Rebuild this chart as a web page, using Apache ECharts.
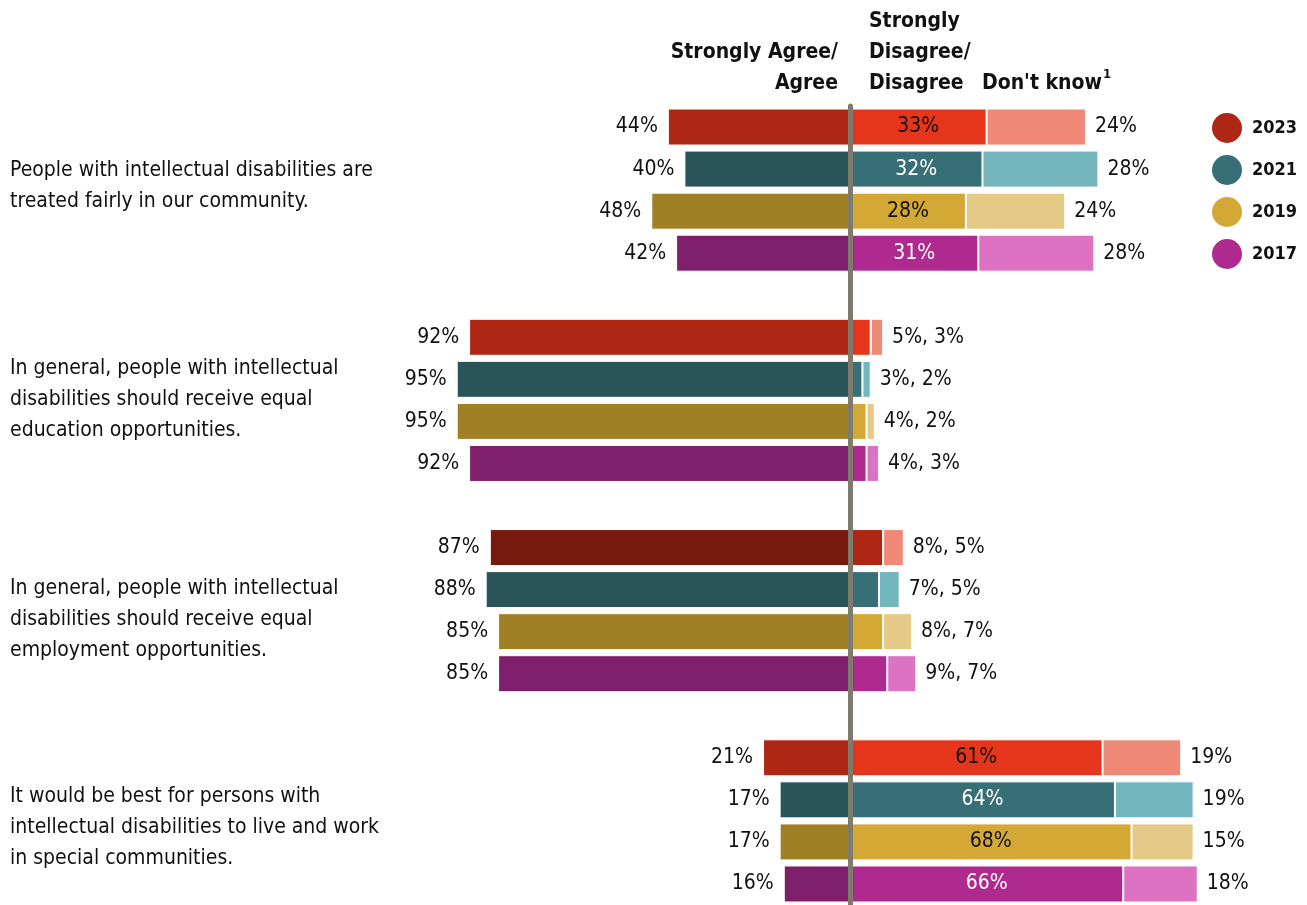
<!DOCTYPE html>
<html>
<head>
<meta charset="utf-8">
<style>
  html, body { margin: 0; padding: 0; background: #fff; }
  #chart { width: 1307px; height: 905px; }
</style>
<script src="https://cdn.jsdelivr.net/npm/echarts@6/dist/echarts.min.js"></script>
</head>
<body>
<div id="chart"></div>
<script>
// Survey statements, shown top to bottom
const questions = [
  'People with intellectual disabilities are\ntreated fairly in our community.',
  'In general, people with intellectual\ndisabilities should receive equal\neducation opportunities.',
  'In general, people with intellectual\ndisabilities should receive equal\nemployment opportunities.',
  'It would be best for persons with\nintellectual disabilities to live and work\nin special communities.'
];

// Survey waves, one bar per wave inside each statement
const years = ['2023', '2021', '2019', '2017'];

// Percentages per wave, one value per statement (same order as questions)
const agree2023 = [44, 92, 87, 21];
const agree2021 = [40, 95, 88, 17];
const agree2019 = [48, 95, 85, 17];
const agree2017 = [42, 92, 85, 16];

const disagree2023 = [33, 5, 8, 61];
const disagree2021 = [32, 3, 7, 64];
const disagree2019 = [28, 4, 8, 68];
const disagree2017 = [31, 4, 9, 66];

const dontKnow2023 = [24, 3, 5, 19];
const dontKnow2021 = [28, 2, 5, 19];
const dontKnow2019 = [24, 2, 7, 15];
const dontKnow2017 = [28, 3, 7, 18];

const agree = [agree2023, agree2021, agree2019, agree2017];
const disagree = [disagree2023, disagree2021, disagree2019, disagree2017];
const dontKnow = [dontKnow2023, dontKnow2021, dontKnow2019, dontKnow2017];

// ---- styling ----
const FONT = "'Liberation Sans Narrow', 'Arial Narrow', 'DejaVu Sans Condensed', sans-serif";
const palette = {
  agree:    ['#AE2614', '#28545A', '#A08024', '#7F1E6A'],
  disagree: ['#E5361B', '#376F77', '#D3A835', '#AE2A8F'],
  dontKnow: ['#F08877', '#74B6BE', '#E4CA86', '#DD72C3'],
  legend:   ['#AE2614', '#376F77', '#D3A835', '#AE2A8F'],
  inside:   ['#111111', '#ffffff', '#111111', '#ffffff']
};
// the 2023 employment bar is drawn in a deeper shade
const shadeOverride = { '2-0': { agree: '#751A0D', disagree: '#AE2614' } };
// vertical nudge (px) of each statement's text block
const questionNudge = [-4, -1, 9, 7];

// one category slot per bar, with a blank slot between statements
const slots = [];
questions.forEach((q, qi) => {
  years.forEach((y, yi) => slots.push({ qi, yi }));
  if (qi < questions.length - 1) slots.push(null);
});
const categories = slots.map((s, i) => s ? `${s.qi}-${years[s.yi]}` : `gap-${i}`);

function colorOf(kind, s) {
  const o = shadeOverride[`${s.qi}-${s.yi}`];
  return (o && o[kind]) || palette[kind][s.yi];
}

const labelFont = { fontFamily: FONT, fontSize: 21, color: '#111' };

const agreeData = slots.map(s => s ? {
  value: -agree[s.yi][s.qi],
  itemStyle: { color: colorOf('agree', s) }
} : '-');

const disagreeData = slots.map(s => {
  if (!s) return '-';
  const v = disagree[s.yi][s.qi];
  const inside = v >= 20;
  return {
    value: v,
    itemStyle: { color: colorOf('disagree', s) },
    label: inside
      ? { show: true, position: 'inside', color: palette.inside[s.yi], formatter: v + '%' }
      : { show: false }
  };
});

const dontKnowData = slots.map(s => {
  if (!s) return '-';
  const v = dontKnow[s.yi][s.qi];
  const d = disagree[s.yi][s.qi];
  return {
    value: v,
    itemStyle: { color: colorOf('dontKnow', s) },
    label: { show: true, formatter: d >= 20 ? v + '%' : `${d}%, ${v}%` }
  };
});

const chart = echarts.init(document.getElementById('chart'), null, { renderer: 'canvas' });

const barBase = {
  type: 'bar',
  stack: 'total',
  barWidth: 37,
  itemStyle: { borderColor: '#ffffff', borderWidth: 1 },
  emphasis: { disabled: true }
};

chart.setOption({
  animation: false,
  backgroundColor: '#ffffff',
  textStyle: { fontFamily: FONT },
  grid: { left: 436, width: 828, top: 106, height: 803 },
  xAxis: { type: 'value', min: -100, max: 100, show: false },
  yAxis: {
    type: 'category',
    data: categories,
    inverse: true,
    z: 10,
    axisLine: { show: true, onZero: true, lineStyle: { color: '#7E7A6C', width: 5 } },
    axisTick: { show: false },
    axisLabel: { show: false },
    splitLine: { show: false }
  },
  legend: {
    orient: 'vertical',
    left: 1207,
    top: 108,
    icon: 'circle',
    itemWidth: 30,
    itemHeight: 30,
    itemGap: 12,
    selectedMode: false,
    data: years,
    textStyle: { fontFamily: FONT, fontSize: 18, fontWeight: 'bold', color: '#111', padding: [0, 0, 0, 5] }
  },
  series: [
    Object.assign({}, barBase, {
      name: 'Strongly Agree/Agree',
      data: agreeData,
      label: Object.assign({ show: true, position: 'left', distance: 10,
        formatter: p => Math.abs(p.value) + '%' }, labelFont)
    }),
    Object.assign({}, barBase, {
      name: 'Strongly Disagree/Disagree',
      data: disagreeData,
      label: Object.assign({}, labelFont)
    }),
    Object.assign({}, barBase, {
      name: "Don't know",
      data: dontKnowData,
      label: Object.assign({ position: 'right', distance: 9 }, labelFont)
    }),
    // legend entries, one per survey wave
    ...years.map((y, i) => ({ type: 'scatter', name: y, data: [], itemStyle: { color: palette.legend[i], opacity: 1 } }))
  ]
});

// headers above the bars and statement text at the left of each group
const headStyle = { fontFamily: FONT, fontSize: 21, fontWeight: 'bold', fill: '#111', lineHeight: 31 };
const graphics = [
  { type: 'text', x: 838, y: 37, style: Object.assign({ text: 'Strongly Agree/\nAgree', align: 'right', verticalAlign: 'top' }, headStyle) },
  { type: 'text', x: 869, y: 6, style: Object.assign({ text: 'Strongly\nDisagree/\nDisagree', align: 'left', verticalAlign: 'top' }, headStyle) },
  { type: 'text', x: 982, y: 68, style: {
      text: "{t|Don't know}{s|1}", align: 'left', verticalAlign: 'top',
      rich: {
        t: { fontFamily: FONT, fontSize: 21, fontWeight: 'bold', fill: '#111', lineHeight: 31 },
        s: { fontFamily: FONT, fontSize: 13, fontWeight: 'bold', fill: '#111', verticalAlign: 'top', padding: [0, 0, 14, 1] }
      }
    } }
];
questions.forEach((q, qi) => {
  const first = slots.findIndex(s => s && s.qi === qi);
  const top = chart.convertToPixel({ yAxisIndex: 0 }, categories[first]);
  const bottom = chart.convertToPixel({ yAxisIndex: 0 }, categories[first + years.length - 1]);
  graphics.push({
    type: 'text', x: 10, y: (top + bottom) / 2 + questionNudge[qi],
    style: { text: q, fontFamily: FONT, fontSize: 21, fill: '#111', lineHeight: 31, align: 'left', verticalAlign: 'middle' }
  });
});
chart.setOption({ graphic: graphics });
</script>
</body>
</html>
